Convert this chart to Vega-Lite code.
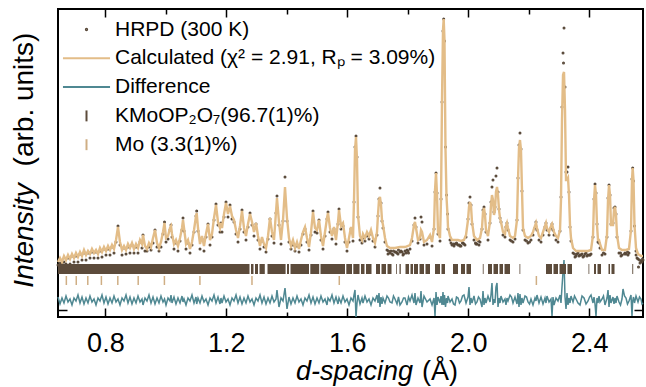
{
"$schema": "https://vega.github.io/schema/vega-lite/v6.json",
"width": 585, "height": 308,
"autosize": {"type": "none"},
"padding": {"left": 58, "top": 9, "right": 3, "bottom": 70},
"background": "white",
"config": {
 "view": {"stroke": "black", "strokeWidth": 2},
 "axis": {"labelFont": "Liberation Sans", "titleFont": "Liberation Sans", "labelColor": "black", "titleColor": "black", "tickColor": "black", "tickWidth": 1.5, "domain": false, "grid": false, "titleFontWeight": "normal"}
},
"datasets": {
"profile": [
{"d":0.6433,"calc":55,"obs":52,"diff":20},{"d":0.6499,"calc":59,"obs":54,"diff":13},{"d":0.6565,"calc":55,"obs":53,"diff":19},{"d":0.6631,"calc":61,"obs":55,"diff":14},{"d":0.6698,"calc":57,"obs":53,"diff":21},{"d":0.6764,"calc":62,"obs":59,"diff":15},{"d":0.6830,"calc":58,"obs":53,"diff":18},{"d":0.6896,"calc":63,"obs":61,"diff":12},{"d":0.6962,"calc":59,"obs":55,"diff":19},{"d":0.7028,"calc":64,"obs":61,"diff":16},
{"d":0.7094,"calc":60,"obs":55,"diff":22},{"d":0.7161,"calc":65,"obs":63,"diff":14},{"d":0.7227,"calc":61,"obs":57,"diff":20},{"d":0.7293,"calc":67,"obs":64,"diff":13},{"d":0.7359,"calc":62,"obs":57,"diff":19},{"d":0.7425,"calc":66,"obs":64,"diff":14},{"d":0.7491,"calc":63,"obs":59,"diff":21},{"d":0.7557,"calc":68,"obs":65,"diff":15},{"d":0.7624,"calc":64,"obs":59,"diff":18},{"d":0.7690,"calc":67,"obs":65,"diff":12},
{"d":0.7756,"calc":63,"obs":59,"diff":19},{"d":0.7822,"calc":69,"obs":66,"diff":16},{"d":0.7888,"calc":65,"obs":60,"diff":22},{"d":0.7954,"calc":70,"obs":68,"diff":14},{"d":0.8020,"calc":66,"obs":62,"diff":20},{"d":0.8087,"calc":71,"obs":68,"diff":13},{"d":0.8153,"calc":67,"obs":62,"diff":19},{"d":0.8219,"calc":72,"obs":70,"diff":14},{"d":0.8285,"calc":68,"obs":64,"diff":21},{"d":0.8351,"calc":77,"obs":75,"diff":15},
{"d":0.8417,"calc":90,"obs":91,"diff":18},{"d":0.8483,"calc":75,"obs":72,"diff":12},{"d":0.8550,"calc":67,"obs":62,"diff":19},{"d":0.8616,"calc":71,"obs":69,"diff":16},{"d":0.8682,"calc":67,"obs":63,"diff":22},{"d":0.8748,"calc":73,"obs":70,"diff":14},{"d":0.8814,"calc":69,"obs":64,"diff":20},{"d":0.8880,"calc":74,"obs":72,"diff":13},{"d":0.8946,"calc":68,"obs":64,"diff":19},{"d":0.9013,"calc":73,"obs":70,"diff":14},
{"d":0.9079,"calc":69,"obs":64,"diff":21},{"d":0.9145,"calc":77,"obs":75,"diff":15},{"d":0.9211,"calc":73,"obs":69,"diff":18},{"d":0.9244,"calc":82,"obs":82,"diff":12},{"d":0.9310,"calc":71,"obs":66,"diff":19},{"d":0.9376,"calc":68,"obs":66,"diff":16},{"d":0.9442,"calc":74,"obs":70,"diff":22},{"d":0.9509,"calc":70,"obs":67,"diff":14},{"d":0.9575,"calc":79,"obs":74,"diff":20},{"d":0.9641,"calc":87,"obs":87,"diff":13},
{"d":0.9707,"calc":74,"obs":70,"diff":19},{"d":0.9773,"calc":69,"obs":66,"diff":14},{"d":0.9839,"calc":75,"obs":70,"diff":21},{"d":0.9905,"calc":85,"obs":83,"diff":15},{"d":0.9955,"calc":94,"obs":95,"diff":18},{"d":1.0005,"calc":79,"obs":75,"diff":12},{"d":1.0071,"calc":81,"obs":78,"diff":19},{"d":1.0137,"calc":89,"obs":87,"diff":16},{"d":1.0170,"calc":91,"obs":92,"diff":22},{"d":1.0203,"calc":83,"obs":80,"diff":14},
{"d":1.0269,"calc":73,"obs":68,"diff":20},{"d":1.0335,"calc":77,"obs":74,"diff":13},{"d":1.0401,"calc":71,"obs":66,"diff":19},{"d":1.0468,"calc":79,"obs":76,"diff":14},{"d":1.0534,"calc":89,"obs":87,"diff":21},{"d":1.0567,"calc":97,"obs":99,"diff":15},{"d":1.0600,"calc":89,"obs":86,"diff":18},{"d":1.0666,"calc":73,"obs":68,"diff":12},{"d":1.0732,"calc":77,"obs":74,"diff":19},{"d":1.0798,"calc":68,"obs":64,"diff":16},
{"d":1.0864,"calc":75,"obs":72,"diff":22},{"d":1.0931,"calc":87,"obs":85,"diff":14},{"d":1.0997,"calc":101,"obs":101,"diff":20},{"d":1.1020,"calc":104,"obs":106,"diff":13},{"d":1.1063,"calc":89,"obs":86,"diff":19},{"d":1.1129,"calc":73,"obs":68,"diff":14},{"d":1.1195,"calc":81,"obs":78,"diff":21},{"d":1.1261,"calc":71,"obs":66,"diff":15},{"d":1.1327,"calc":83,"obs":80,"diff":18},{"d":1.1394,"calc":93,"obs":93,"diff":12},
{"d":1.1460,"calc":77,"obs":72,"diff":19},{"d":1.1526,"calc":83,"obs":80,"diff":16},{"d":1.1592,"calc":99,"obs":97,"diff":22},{"d":1.1658,"calc":112,"obs":113,"diff":14},{"d":1.1724,"calc":95,"obs":92,"diff":20},{"d":1.1790,"calc":89,"obs":85,"diff":13},{"d":1.1823,"calc":94,"obs":94,"diff":19},{"d":1.1857,"calc":89,"obs":85,"diff":14},{"d":1.1923,"calc":103,"obs":100,"diff":21},{"d":1.1989,"calc":114,"obs":115,"diff":15},
{"d":1.2055,"calc":103,"obs":100,"diff":18},{"d":1.2121,"calc":111,"obs":112,"diff":12},{"d":1.2187,"calc":101,"obs":98,"diff":19},{"d":1.2253,"calc":97,"obs":95,"diff":16},{"d":1.2320,"calc":87,"obs":83,"diff":22},{"d":1.2386,"calc":79,"obs":75,"diff":14},{"d":1.2452,"calc":91,"obs":88,"diff":20},{"d":1.2518,"calc":106,"obs":107,"diff":13},{"d":1.2584,"calc":89,"obs":85,"diff":19},{"d":1.2650,"calc":81,"obs":77,"diff":14},
{"d":1.2716,"calc":93,"obs":90,"diff":21},{"d":1.2783,"calc":103,"obs":104,"diff":15},{"d":1.2849,"calc":95,"obs":92,"diff":18},{"d":1.2915,"calc":85,"obs":81,"diff":12},{"d":1.2981,"calc":94,"obs":93,"diff":19},{"d":1.3047,"calc":81,"obs":77,"diff":16},{"d":1.3113,"calc":71,"obs":68,"diff":22},{"d":1.3179,"calc":80,"obs":76,"diff":14},{"d":1.3246,"calc":73,"obs":70,"diff":20},{"d":1.3312,"calc":69,"obs":65,"diff":13},
{"d":1.3378,"calc":81,"obs":78,"diff":19},{"d":1.3444,"calc":99,"obs":98,"diff":14},{"d":1.3510,"calc":85,"obs":81,"diff":21},{"d":1.3576,"calc":77,"obs":74,"diff":15},{"d":1.3642,"calc":105,"obs":104,"diff":18},{"d":1.3675,"calc":119,"obs":121,"diff":27},{"d":1.3741,"calc":95,"obs":92,"diff":10},{"d":1.3808,"calc":77,"obs":73,"diff":19},{"d":1.3874,"calc":97,"obs":96,"diff":16},{"d":1.3940,"calc":130,"obs":140,"diff":29},
{"d":1.4006,"calc":99,"obs":96,"diff":8},{"d":1.4072,"calc":79,"obs":75,"diff":20},{"d":1.4138,"calc":71,"obs":68,"diff":13},{"d":1.4204,"calc":77,"obs":72,"diff":19},{"d":1.4271,"calc":69,"obs":66,"diff":14},{"d":1.4337,"calc":75,"obs":71,"diff":21},{"d":1.4403,"calc":68,"obs":65,"diff":15},{"d":1.4469,"calc":77,"obs":72,"diff":18},{"d":1.4535,"calc":85,"obs":83,"diff":12},{"d":1.4601,"calc":90,"obs":88,"diff":19},
{"d":1.4667,"calc":79,"obs":75,"diff":16},{"d":1.4734,"calc":70,"obs":67,"diff":22},{"d":1.4800,"calc":85,"obs":82,"diff":14},{"d":1.4866,"calc":105,"obs":106,"diff":20},{"d":1.4932,"calc":89,"obs":85,"diff":13},{"d":1.4998,"calc":87,"obs":84,"diff":19},{"d":1.5064,"calc":97,"obs":97,"diff":14},{"d":1.5130,"calc":81,"obs":77,"diff":21},{"d":1.5197,"calc":71,"obs":68,"diff":15},{"d":1.5263,"calc":85,"obs":81,"diff":18},
{"d":1.5329,"calc":99,"obs":98,"diff":12},{"d":1.5362,"calc":104,"obs":105,"diff":19},{"d":1.5428,"calc":89,"obs":85,"diff":16},{"d":1.5494,"calc":81,"obs":78,"diff":22},{"d":1.5560,"calc":90,"obs":88,"diff":14},{"d":1.5626,"calc":77,"obs":73,"diff":20},{"d":1.5693,"calc":95,"obs":93,"diff":13},{"d":1.5726,"calc":107,"obs":108,"diff":19},{"d":1.5792,"calc":91,"obs":88,"diff":14},{"d":1.5858,"calc":94,"obs":91,"diff":21},
{"d":1.5924,"calc":79,"obs":75,"diff":15},{"d":1.5990,"calc":69,"obs":66,"diff":18},{"d":1.6056,"calc":79,"obs":75,"diff":12},{"d":1.6122,"calc":90,"obs":88,"diff":19},{"d":1.6189,"calc":79,"obs":76,"diff":16},{"d":1.6222,"calc":117,"obs":115,"diff":22},{"d":1.6255,"calc":167,"obs":170,"diff":27},{"d":1.6288,"calc":180,"obs":181,"diff":0},{"d":1.6321,"calc":157,"obs":160,"diff":14},{"d":1.6354,"calc":102,"obs":100,"diff":22},
{"d":1.6420,"calc":81,"obs":77,"diff":13},{"d":1.6486,"calc":77,"obs":74,"diff":19},{"d":1.6519,"calc":83,"obs":79,"diff":14},{"d":1.6585,"calc":79,"obs":76,"diff":21},{"d":1.6652,"calc":85,"obs":81,"diff":15},{"d":1.6718,"calc":81,"obs":78,"diff":18},{"d":1.6784,"calc":87,"obs":83,"diff":12},{"d":1.6850,"calc":79,"obs":76,"diff":19},{"d":1.6916,"calc":74,"obs":70,"diff":16},{"d":1.6982,"calc":85,"obs":82,"diff":22},
{"d":1.7015,"calc":102,"obs":101,"diff":14},{"d":1.7048,"calc":117,"obs":118,"diff":24},{"d":1.7081,"calc":120,"obs":129,"diff":10},{"d":1.7115,"calc":112,"obs":114,"diff":20},{"d":1.7148,"calc":97,"obs":96,"diff":13},{"d":1.7181,"calc":92,"obs":89,"diff":19},{"d":1.7247,"calc":79,"obs":75,"diff":14},{"d":1.7313,"calc":71,"obs":67,"diff":21},{"d":1.7412,"calc":69,"obs":64,"diff":15},{"d":1.7578,"calc":69,"obs":65,"diff":18},
{"d":1.7743,"calc":70,"obs":65,"diff":12},{"d":1.7908,"calc":70,"obs":66,"diff":19},{"d":1.8074,"calc":72,"obs":68,"diff":16},{"d":1.8140,"calc":79,"obs":76,"diff":22},{"d":1.8206,"calc":92,"obs":92,"diff":14},{"d":1.8239,"calc":95,"obs":99,"diff":24},{"d":1.8272,"calc":89,"obs":90,"diff":12},{"d":1.8338,"calc":77,"obs":74,"diff":19},{"d":1.8405,"calc":79,"obs":78,"diff":14},{"d":1.8438,"calc":87,"obs":100,"diff":26},
{"d":1.8471,"calc":85,"obs":95,"diff":10},{"d":1.8537,"calc":75,"obs":72,"diff":21},{"d":1.8636,"calc":77,"obs":73,"diff":15},{"d":1.8736,"calc":82,"obs":80,"diff":18},{"d":1.8802,"calc":75,"obs":71,"diff":12},{"d":1.8868,"calc":89,"obs":88,"diff":19},{"d":1.8901,"calc":127,"obs":125,"diff":1},{"d":1.8934,"calc":144,"obs":144,"diff":25},{"d":1.8967,"calc":122,"obs":124,"diff":12},{"d":1.9000,"calc":85,"obs":83,"diff":20},
{"d":1.9066,"calc":79,"obs":76,"diff":14},{"d":1.9099,"calc":117,"obs":118,"diff":21},{"d":1.9132,"calc":217,"obs":215,"diff":12},{"d":1.9165,"calc":287,"obs":286,"diff":25},{"d":1.9188,"calc":298,"obs":298,"diff":12},{"d":1.9214,"calc":277,"obs":276,"diff":22},{"d":1.9248,"calc":167,"obs":170,"diff":10},{"d":1.9281,"calc":120,"obs":122,"diff":19},{"d":1.9314,"calc":102,"obs":103,"diff":14},{"d":1.9330,"calc":90,"obs":88,"diff":21},
{"d":1.9397,"calc":81,"obs":77,"diff":15},{"d":1.9463,"calc":77,"obs":72,"diff":18},{"d":1.9562,"calc":77,"obs":73,"diff":12},{"d":1.9661,"calc":77,"obs":72,"diff":19},{"d":1.9760,"calc":76,"obs":71,"diff":16},{"d":1.9859,"calc":77,"obs":73,"diff":22},{"d":1.9926,"calc":82,"obs":80,"diff":14},{"d":1.9992,"calc":97,"obs":98,"diff":20},{"d":2.0025,"calc":110,"obs":114,"diff":30},{"d":2.0058,"calc":115,"obs":120,"diff":12},
{"d":2.0091,"calc":111,"obs":112,"diff":19},{"d":2.0124,"calc":95,"obs":93,"diff":14},{"d":2.0190,"calc":81,"obs":77,"diff":21},{"d":2.0289,"calc":77,"obs":73,"diff":15},{"d":2.0389,"calc":79,"obs":75,"diff":18},{"d":2.0455,"calc":89,"obs":88,"diff":10},{"d":2.0488,"calc":105,"obs":107,"diff":26},{"d":2.0521,"calc":109,"obs":110,"diff":12},{"d":2.0554,"calc":102,"obs":103,"diff":19},{"d":2.0587,"calc":87,"obs":85,"diff":14},
{"d":2.0653,"calc":81,"obs":77,"diff":21},{"d":2.0719,"calc":95,"obs":94,"diff":15},{"d":2.0752,"calc":112,"obs":115,"diff":22},{"d":2.0785,"calc":122,"obs":130,"diff":34},{"d":2.0818,"calc":117,"obs":137,"diff":12},{"d":2.0851,"calc":102,"obs":105,"diff":18},{"d":2.0884,"calc":107,"obs":110,"diff":14},{"d":2.0917,"calc":125,"obs":141,"diff":30},{"d":2.0951,"calc":130,"obs":149,"diff":34},{"d":2.0984,"calc":122,"obs":125,"diff":10},
{"d":2.1017,"calc":107,"obs":108,"diff":19},{"d":2.1050,"calc":99,"obs":99,"diff":14},{"d":2.1083,"calc":95,"obs":95,"diff":21},{"d":2.1149,"calc":85,"obs":82,"diff":15},{"d":2.1215,"calc":83,"obs":80,"diff":18},{"d":2.1248,"calc":91,"obs":90,"diff":12},{"d":2.1281,"calc":94,"obs":94,"diff":19},{"d":2.1315,"calc":89,"obs":87,"diff":16},{"d":2.1381,"calc":81,"obs":77,"diff":22},{"d":2.1480,"calc":79,"obs":75,"diff":14},
{"d":2.1546,"calc":81,"obs":78,"diff":20},{"d":2.1612,"calc":97,"obs":97,"diff":13},{"d":2.1645,"calc":137,"obs":139,"diff":24},{"d":2.1678,"calc":169,"obs":172,"diff":10},{"d":2.1711,"calc":177,"obs":184,"diff":23},{"d":2.1744,"calc":167,"obs":168,"diff":12},{"d":2.1777,"calc":127,"obs":126,"diff":19},{"d":2.1811,"calc":89,"obs":87,"diff":14},{"d":2.1877,"calc":81,"obs":77,"diff":21},{"d":2.1976,"calc":79,"obs":74,"diff":15},
{"d":2.2075,"calc":81,"obs":77,"diff":18},{"d":2.2141,"calc":85,"obs":82,"diff":12},{"d":2.2207,"calc":91,"obs":89,"diff":19},{"d":2.2240,"calc":94,"obs":95,"diff":16},{"d":2.2273,"calc":89,"obs":87,"diff":22},{"d":2.2340,"calc":81,"obs":77,"diff":14},{"d":2.2406,"calc":79,"obs":75,"diff":20},{"d":2.2472,"calc":85,"obs":82,"diff":13},{"d":2.2538,"calc":91,"obs":90,"diff":19},{"d":2.2571,"calc":94,"obs":94,"diff":14},
{"d":2.2604,"calc":89,"obs":87,"diff":21},{"d":2.2671,"calc":85,"obs":82,"diff":15},{"d":2.2737,"calc":91,"obs":89,"diff":18},{"d":2.2770,"calc":93,"obs":93,"diff":1},{"d":2.2803,"calc":89,"obs":87,"diff":20},{"d":2.2836,"calc":85,"obs":82,"diff":12},{"d":2.2902,"calc":81,"obs":77,"diff":19},{"d":2.2968,"calc":79,"obs":75,"diff":16},{"d":2.3034,"calc":87,"obs":86,"diff":22},{"d":2.3067,"calc":117,"obs":120,"diff":14},
{"d":2.3100,"calc":197,"obs":210,"diff":30},{"d":2.3134,"calc":242,"obs":264,"diff":45},{"d":2.3167,"calc":245,"obs":289,"diff":57},{"d":2.3200,"calc":207,"obs":230,"diff":20},{"d":2.3233,"calc":137,"obs":145,"diff":8},{"d":2.3266,"calc":137,"obs":145,"diff":24},{"d":2.3299,"calc":139,"obs":150,"diff":12},{"d":2.3332,"calc":122,"obs":125,"diff":19},{"d":2.3365,"calc":92,"obs":90,"diff":14},{"d":2.3398,"calc":79,"obs":76,"diff":21},
{"d":2.3465,"calc":69,"obs":64,"diff":15},{"d":2.3564,"calc":66,"obs":61,"diff":18},{"d":2.3696,"calc":66,"obs":62,"diff":12},{"d":2.3829,"calc":66,"obs":61,"diff":19},{"d":2.3961,"calc":66,"obs":62,"diff":16},{"d":2.4060,"calc":67,"obs":63,"diff":22},{"d":2.4126,"calc":82,"obs":80,"diff":14},{"d":2.4159,"calc":117,"obs":118,"diff":20},{"d":2.4192,"calc":132,"obs":133,"diff":13},{"d":2.4225,"calc":122,"obs":124,"diff":1},
{"d":2.4258,"calc":92,"obs":93,"diff":19},{"d":2.4291,"calc":77,"obs":75,"diff":14},{"d":2.4324,"calc":77,"obs":74,"diff":21},{"d":2.4357,"calc":73,"obs":69,"diff":15},{"d":2.4423,"calc":67,"obs":62,"diff":18},{"d":2.4522,"calc":67,"obs":63,"diff":12},{"d":2.4588,"calc":82,"obs":80,"diff":19},{"d":2.4622,"calc":117,"obs":119,"diff":27},{"d":2.4655,"calc":132,"obs":132,"diff":10},{"d":2.4688,"calc":122,"obs":122,"diff":22},
{"d":2.4721,"calc":92,"obs":93,"diff":14},{"d":2.4787,"calc":92,"obs":94,"diff":20},{"d":2.4820,"calc":107,"obs":109,"diff":13},{"d":2.4853,"calc":110,"obs":110,"diff":19},{"d":2.4886,"calc":102,"obs":103,"diff":14},{"d":2.4919,"calc":82,"obs":80,"diff":21},{"d":2.4985,"calc":69,"obs":64,"diff":15},{"d":2.5084,"calc":67,"obs":62,"diff":18},{"d":2.5217,"calc":67,"obs":63,"diff":19},{"d":2.5316,"calc":68,"obs":64,"diff":16},
{"d":2.5382,"calc":87,"obs":86,"diff":22},{"d":2.5415,"calc":137,"obs":138,"diff":1},{"d":2.5438,"calc":149,"obs":149,"diff":16},{"d":2.5465,"calc":137,"obs":136,"diff":20},{"d":2.5498,"calc":92,"obs":91,"diff":14},{"d":2.5548,"calc":69,"obs":66,"diff":21},{"d":2.5614,"calc":63,"obs":58,"diff":15},{"d":2.5713,"calc":61,"obs":56,"diff":18},{"d":2.5779,"calc":61,"obs":57,"diff":14},
{"d":1.7363,"obs":66,"diff":19},{"d":1.7478,"obs":63,"diff":14},{"d":1.7528,"obs":66,"diff":21},{"d":1.7644,"obs":64,"diff":13},{"d":1.7693,"obs":67,"diff":20},{"d":1.7809,"obs":65,"diff":15},{"d":1.7859,"obs":63,"diff":19},{"d":1.7975,"obs":67,"diff":12},{"d":1.8024,"obs":64,"diff":20},
{"d":1.9512,"obs":73,"diff":13},{"d":1.9611,"obs":74,"diff":20},{"d":1.9710,"obs":72,"diff":14},{"d":1.9810,"obs":74,"diff":21},{"d":2.0240,"obs":74,"diff":13},{"d":2.0339,"obs":76,"diff":20},{"d":2.1430,"obs":76,"diff":20},{"d":2.1927,"obs":76,"diff":20},{"d":2.2026,"obs":75,"diff":13},
{"d":2.3150,"obs":254},{"d":2.3514,"obs":63,"diff":21},{"d":2.3630,"obs":64,"diff":14},{"d":2.3762,"obs":63,"diff":21},{"d":2.3895,"obs":64,"diff":13},{"d":2.4011,"obs":62,"diff":20},{"d":2.4472,"obs":64,"diff":21},{"d":2.5035,"obs":64,"diff":12},{"d":2.5118,"diff":28},{"d":2.5167,"obs":63,"diff":21},{"d":2.5266,"obs":65,"diff":13},{"d":2.5664,"obs":57,"diff":20},{"d":2.5746,"obs":55,"diff":13},
{"d":1.7346,"obs":63},{"d":1.7445,"obs":66},{"d":1.7511,"obs":62},{"d":1.7611,"obs":65},{"d":1.7677,"obs":63},{"d":1.7776,"obs":66},{"d":1.7842,"obs":62},{"d":1.7941,"obs":64},{"d":1.8007,"obs":66},
{"d":2.3531,"obs":60},{"d":2.3597,"obs":63},{"d":2.3663,"obs":61},{"d":2.3729,"obs":62},{"d":2.3796,"obs":60},{"d":2.3862,"obs":63},{"d":2.3928,"obs":61},{"d":2.4027,"obs":62},
{"d":1.9430,"obs":74},{"d":1.9529,"obs":71},{"d":1.9628,"obs":73},{"d":1.9727,"obs":71},{"d":1.9826,"obs":74},{"d":1.9892,"obs":72},
{"d":2.5051,"obs":61},{"d":2.5184,"obs":64},{"d":2.5283,"obs":62},{"d":2.5581,"obs":59},{"d":2.5680,"obs":54},{"d":2.5763,"obs":58},{"d":2.5630,"obs":50},{"d":2.5550,"obs":62},
{"d":2.0256,"obs":73},{"d":2.0355,"obs":72}
],
"kmo": [
{"d1":0.6433,"d2":1.2766},{"d1":1.2816,"d2":1.2898},{"d1":1.2948,"d2":1.3047},{"d1":1.3097,"d2":1.3272},{"d1":1.3361,"d2":1.3960},{"d1":1.4006,"d2":1.4072},{"d1":1.4122,"d2":1.4734},{"d1":1.4777,"d2":1.5071},{"d1":1.5114,"d2":1.5924},{"d1":1.5967,"d2":1.6156},
{"d1":1.6199,"d2":1.6404},{"d1":1.6453,"d2":1.6569},{"d1":1.6619,"d2":1.6801},{"d1":1.6949,"d2":1.7081},{"d1":1.7131,"d2":1.7280},{"d1":1.7330,"d2":1.7462},{"d1":1.7611,"d2":1.7637},{"d1":1.7726,"d2":1.7769},{"d1":1.7925,"d2":1.8041},{"d1":1.8090,"d2":1.8173},
{"d1":1.8206,"d2":1.8338},{"d1":1.8388,"d2":1.8537},{"d1":1.8586,"d2":1.8736},{"d1":1.8901,"d2":1.9066},{"d1":1.9115,"d2":1.9231},{"d1":1.9496,"d2":1.9661},{"d1":1.9760,"d2":1.9893},{"d1":1.9942,"d2":2.0091},{"d1":2.0481,"d2":2.0508},{"d1":2.0653,"d2":2.0785},
{"d1":2.0835,"d2":2.0984},{"d1":2.1033,"d2":2.1149},{"d1":2.1199,"d2":2.1381},{"d1":2.1695,"d2":2.1721},{"d1":2.2571,"d2":2.2770},{"d1":2.2819,"d2":2.2968},{"d1":2.3018,"d2":2.3233},{"d1":2.3282,"d2":2.3431},{"d1":2.3977,"d2":2.4003},{"d1":2.4159,"d2":2.4225},
{"d1":2.4274,"d2":2.4390},{"d1":2.4638,"d2":2.4688},{"d1":2.4737,"d2":2.4837},{"d1":2.5425,"d2":2.5455}
],
"mo": [
{"d":2.2253},{"d":1.5735},{"d":1.2848},{"d":1.1126},{"d":0.9952},{"d":0.9085},{"d":0.8411},{"d":0.7868},{"d":0.7418},{"d":0.7037},{"d":0.6709}
]
},
"resolve": {"axis": {"x": "independent", "y": "independent"}},
"layer": [
{
 "data": {"name": "profile"},
 "transform": [{"filter": "isValid(datum.obs)"}],
 "mark": {"type": "point", "filled": false, "strokeWidth": 1.7, "size": 676, "opacity": 1},
 "encoding": {
  "x": {"field": "d", "type": "quantitative", "scale": {"domain": [0.6433, 2.5779], "nice": false, "zero": false},
        "axis": {"orient": "top", "values": [0.8, 1.2, 1.6, 2.0, 2.4], "tickSize": -8, "labels": false, "title": null}},
  "y": {"field": "obs", "type": "quantitative", "scale": {"domain": [0, 308], "nice": false, "zero": false},
        "axis": {"orient": "right", "values": [7], "tickSize": -9, "labels": false, "title": null}},
  "color": {"datum": "HRPD (300 K)", "type": "nominal",
    "scale": {"domain": ["HRPD (300 K)", "Calculated (χ² = 2.91, Rₚ = 3.09%)", "Difference", "KMoOP₂O₇(96.7(1)%)", "Mo (3.3(1)%)"],
              "range": ["#574737", "#e3bd88", "#4f8892", "#5c4b3b", "#cfae84"]},
    "legend": {"orient": "none", "legendX": 14.5, "legendY": 6.5, "title": null, "padding": 0,
               "labelFont": "Liberation Sans", "labelFontSize": 21, "labelColor": "black", "labelLimit": 600,
               "symbolSize": 676, "symbolStrokeWidth": 2, "rowPadding": 4.8, "labelOffset": 14.5}},
  "shape": {"datum": "HRPD (300 K)", "type": "nominal",
    "scale": {"domain": ["HRPD (300 K)", "Calculated (χ² = 2.91, Rₚ = 3.09%)", "Difference", "KMoOP₂O₇(96.7(1)%)", "Mo (3.3(1)%)"],
              "range": ["M-0.05,0A0.05,0.05,0,1,1,0.05,0A0.05,0.05,0,1,1,-0.05,0Z", "M-1.81,0H1.81", "M-1.81,0H1.81", "M0,-0.42V0.42", "M0,-0.42V0.42"]}}
 }
},
{
 "data": {"name": "profile"},
 "transform": [{"filter": "isValid(datum.calc)"}],
 "mark": {"type": "line", "color": "#e3bd88", "strokeWidth": 2.4},
 "encoding": {
  "x": {"field": "d", "type": "quantitative", "scale": {"domain": [0.6433, 2.5779], "nice": false, "zero": false},
        "axis": {"orient": "bottom", "values": [0.8, 1.2, 1.6, 2.0, 2.4], "format": ".1f", "tickSize": -9, "labelFontSize": 27, "labelPadding": 22, "labelFlush": false,
                 "title": "d-spacing", "titleFontStyle": "italic", "titleFontSize": 27, "titleX": 296, "titleY": 62, "titleBaseline": "alphabetic", "titleAlign": "center"}},
  "y": {"field": "calc", "type": "quantitative", "scale": {"domain": [0, 308], "nice": false, "zero": false},
        "axis": {"orient": "left", "values": [7], "tickSize": -9, "labels": false,
                 "title": "Intensity", "titleFontStyle": "italic", "titleFontSize": 28, "titleAngle": 270, "titleX": -26, "titleY": 226, "titleBaseline": "alphabetic", "titleAlign": "center"}}
 }
},
{
 "data": {"name": "profile"},
 "transform": [{"filter": "isValid(datum.diff)"}],
 "mark": {"type": "line", "color": "#4f8892", "strokeWidth": 1.5},
 "encoding": {
  "x": {"field": "d", "type": "quantitative", "scale": {"domain": [0.6433, 2.5779], "nice": false, "zero": false},
        "axis": {"orient": "bottom", "values": [1.0, 1.4, 1.8, 2.2], "tickSize": -5, "labels": false,
                 "title": "(Å)", "titleFontSize": 27, "titleX": 381.5, "titleY": 62, "titleBaseline": "alphabetic", "titleAlign": "center"}},
  "y": {"field": "diff", "type": "quantitative", "scale": {"domain": [0, 308], "nice": false, "zero": false},
        "axis": {"orient": "left", "ticks": false, "labels": false,
                 "title": "(arb. units)", "titleFontSize": 28, "titleAngle": 270, "titleX": -26, "titleY": 90, "titleBaseline": "alphabetic", "titleAlign": "center"}}
 }
},
{
 "data": {"name": "kmo"},
 "mark": {"type": "rect", "color": "#5c4b3b"},
 "encoding": {
  "x": {"field": "d1", "type": "quantitative", "scale": {"domain": [0.6433, 2.5779], "nice": false, "zero": false},
        "axis": {"orient": "top", "values": [1.0, 1.4, 1.8, 2.2], "tickSize": -5, "labels": false, "title": null}},
  "x2": {"field": "d2"},
  "y": {"datum": 53, "type": "quantitative", "scale": {"domain": [0, 308], "nice": false, "zero": false}, "axis": null},
  "y2": {"datum": 43}
 }
},
{
 "data": {"name": "mo"},
 "mark": {"type": "rule", "color": "#cfae84", "strokeWidth": 1.5},
 "encoding": {
  "x": {"field": "d", "type": "quantitative", "scale": {"domain": [0.6433, 2.5779], "nice": false, "zero": false}, "axis": null},
  "y": {"datum": 41, "type": "quantitative", "scale": {"domain": [0, 308], "nice": false, "zero": false}, "axis": null},
  "y2": {"datum": 32}
 }
}
]
}
